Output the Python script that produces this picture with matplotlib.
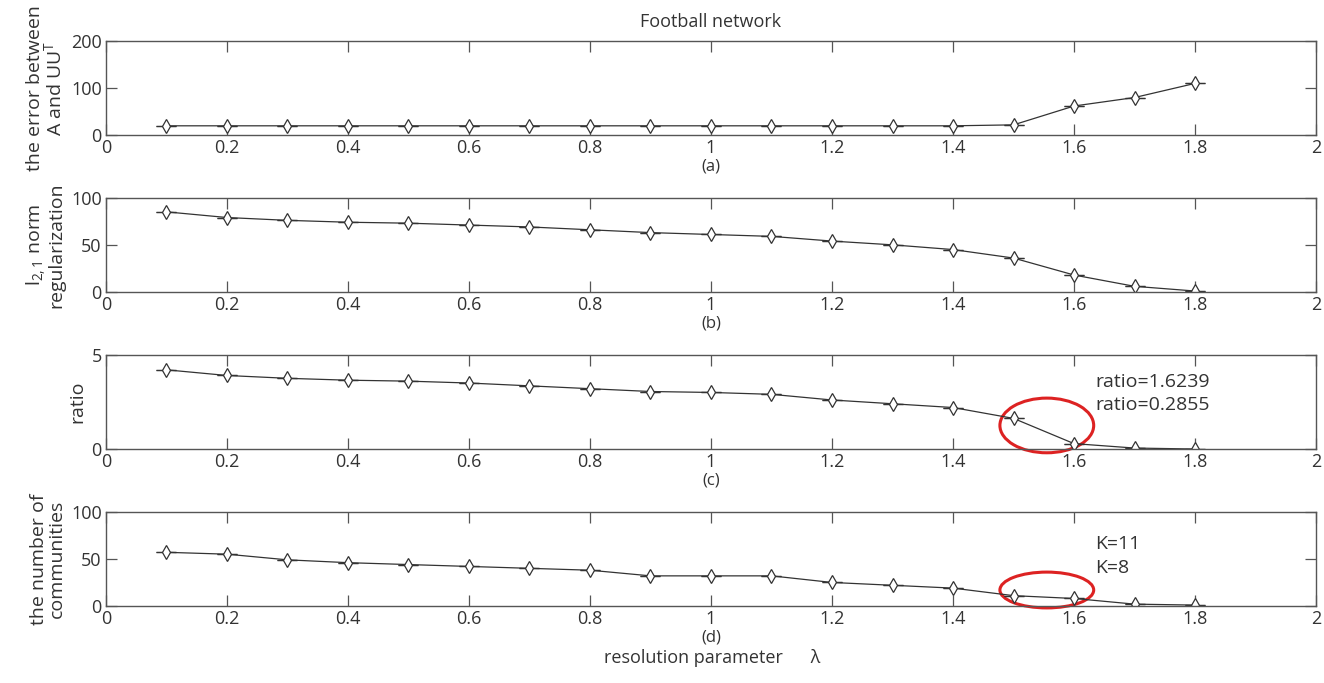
import matplotlib.pyplot as plt
from matplotlib.patches import Ellipse

# resolution parameter lambda
lam = [0.1, 0.2, 0.3, 0.4, 0.5, 0.6, 0.7, 0.8, 0.9, 1.0, 1.1, 1.2, 1.3, 1.4, 1.5, 1.6, 1.7, 1.8]

# (a) error between A and UU^T
err = [20, 20, 20, 20, 20, 20, 20, 20, 20, 20, 20, 20, 20, 20, 22, 62, 80, 110]
# (b) l21 norm regularization
l21 = [85, 79, 76, 74, 73, 71, 69, 66, 63, 61, 59, 54, 50, 45, 36, 18, 6, 1]
# (c) ratio
ratio = [4.2, 3.9, 3.75, 3.65, 3.6, 3.5, 3.35, 3.2, 3.05, 3.0, 2.9, 2.6, 2.4, 2.2, 1.6239, 0.2855, 0.05, 0.0]
# (d) number of communities
ncom = [57, 55, 49, 46, 44, 42, 40, 38, 32, 32, 32, 25, 22, 19, 11, 8, 2, 1]

plt.rcParams['font.family'] = ['Open Sans', 'DejaVu Sans']
plt.rcParams['mathtext.fontset'] = 'custom'
plt.rcParams['mathtext.rm'] = 'Open Sans'
plt.rcParams['mathtext.it'] = 'Open Sans'

fig = plt.figure(figsize=(13.24, 6.83), dpi=100)

bottoms = [0.802, 0.5725, 0.3426, 0.1127]
ys = [err, l21, ratio, ncom]
ylims = [(0, 200), (0, 100), (0, 5), (0, 100)]
yticks = [[0, 100, 200], [0, 50, 100], [0, 5], [0, 50, 100]]
ylabels = ['the error between\nA and UU$^{T}$', 'l$_{2,1}$ norm\nregularization',
           'ratio', 'the number of\ncommunities']
sub = ['(a)', '(b)', '(c)', '(d)']
axcol = '#555555'

axes = []
for i in range(4):
    ax = fig.add_axes([0.080, bottoms[i], 0.914, 0.138])
    ax.errorbar(lam, ys[i], yerr=[0] * len(lam), color='#333333', lw=0.9,
                marker='d', ms=7.5, mfc='white', mec='#333333', mew=0.9,
                capsize=7, capthick=0.8, ecolor='#333333')
    ax.set_xlim(0, 2)
    ax.set_ylim(*ylims[i])
    ax.set_xticks([0, 0.2, 0.4, 0.6, 0.8, 1, 1.2, 1.4, 1.6, 1.8, 2])
    ax.set_xticklabels(['0', '0.2', '0.4', '0.6', '0.8', '1', '1.2', '1.4', '1.6', '1.8', '2'])
    ax.set_yticks(yticks[i])
    ax.tick_params(direction='in', top=True, right=True, length=8, width=0.9,
                   colors=axcol, labelcolor='#333333', labelsize=13, pad=3)
    for s in ax.spines.values():
        s.set_color(axcol)
        s.set_linewidth(1.0)
    ax.set_ylabel(ylabels[i], fontsize=14, color='#333333', linespacing=0.95, labelpad=4)
    ax.set_xlabel(sub[i], fontsize=12, color='#333333', labelpad=1)
    axes.append(ax)

axes[0].set_title('Football network', fontsize=13, color='#333333', pad=10)

# highlight the drop between 1.5 and 1.6
axes[2].add_patch(Ellipse((1.555, 1.25), 0.155, 2.9, fill=False, ec='#dd2222', lw=2.2, clip_on=False))
axes[2].text(1.635, 3.3, 'ratio=1.6239', fontsize=14, color='#333333')
axes[2].text(1.635, 2.05, 'ratio=0.2855', fontsize=14, color='#333333')

axes[3].add_patch(Ellipse((1.555, 17), 0.155, 38, fill=False, ec='#dd2222', lw=2.2, clip_on=False))
axes[3].text(1.635, 61, 'K=11', fontsize=14, color='#333333')
axes[3].text(1.635, 35, 'K=8', fontsize=14, color='#333333')

fig.text(0.538, 0.03, 'resolution parameter      λ', fontsize=13, color='#333333', ha='center')

fig.savefig('out.png', dpi=100)
